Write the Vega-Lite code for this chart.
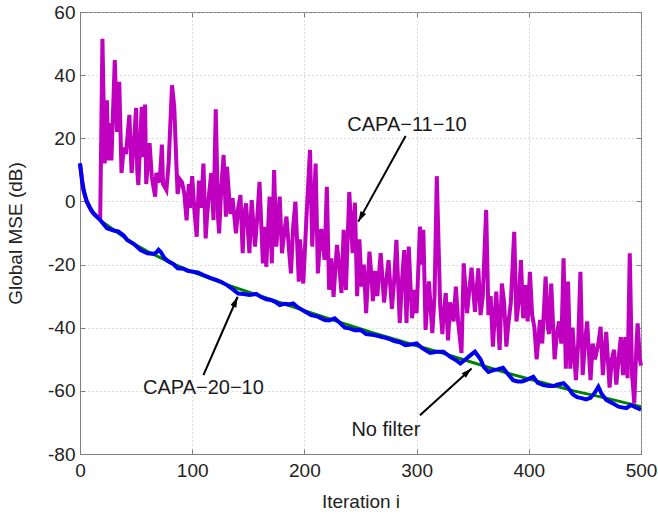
{
"$schema": "https://vega.github.io/schema/vega-lite/v6.json",
"width": 561, "height": 442,
"autosize": "none",
"padding": {"left": 80, "top": 12, "right": 17, "bottom": 60},
"config": {
  "font": "Liberation Sans",
  "view": {"stroke": "#808080", "strokeWidth": 1},
  "axis": {"labelFontSize": 19, "titleFontSize": 19, "labelColor": "#222", "titleColor": "#222", "labelFont": "Liberation Sans", "titleFont": "Liberation Sans", "titleFontWeight": "normal", "domainColor": "#808080", "tickColor": "#808080", "gridColor": "#b8b8b8", "gridDash": [1, 3], "gridWidth": 1, "tickSize": -5, "labelPadding": 10, "labelFlush": false, "labelBound": false, "labelOverlap": false}
},
"datasets": {
  "green": [{"i":0,"v":12},{"i":2,"v":6},{"i":4,"v":2.5},{"i":6,"v":0},{"i":10,"v":-2.8},{"i":15,"v":-4.8},{"i":20,"v":-6.5},{"i":30,"v":-9},{"i":40,"v":-11.5},{"i":50,"v":-13.8},{"i":60,"v":-15.8},{"i":80,"v":-19.3},{"i":100,"v":-22.3},{"i":130,"v":-26.3},{"i":166,"v":-30.6},{"i":200,"v":-34.6},{"i":232,"v":-38.3},{"i":260,"v":-41.5},{"i":300,"v":-45.7},{"i":321,"v":-47.8},{"i":350,"v":-51},{"i":380,"v":-54.3},{"i":410,"v":-57.2},{"i":440,"v":-60},{"i":469,"v":-62.3},{"i":500,"v":-65}],
  "magenta": [{"i":0,"v":12},{"i":3,"v":3.6},{"i":6,"v":0},{"i":10,"v":-3},{"i":14,"v":-4.5},{"i":18,"v":-5.5},{"i":20,"v":51.5},{"i":22,"v":12},{"i":24,"v":32},{"i":25,"v":13},{"i":26,"v":24.8},{"i":28,"v":13},{"i":31,"v":44.8},{"i":33,"v":22},{"i":35,"v":37.9},{"i":37,"v":9},{"i":39,"v":17},{"i":41,"v":15},{"i":44,"v":27.4},{"i":46,"v":9},{"i":48,"v":18},{"i":50,"v":29.6},{"i":51,"v":10},{"i":52,"v":5.2},{"i":55,"v":30},{"i":56,"v":14},{"i":58,"v":30.7},{"i":59,"v":5.5},{"i":62,"v":18.5},{"i":64,"v":8},{"i":65,"v":5.5},{"i":67,"v":1.5},{"i":68,"v":9},{"i":71,"v":6},{"i":73,"v":18},{"i":74,"v":5.5},{"i":77,"v":3.6},{"i":79,"v":12},{"i":82,"v":36.8},{"i":84,"v":30},{"i":86,"v":11},{"i":87,"v":2.4},{"i":89,"v":7},{"i":91,"v":6},{"i":93,"v":2.4},{"i":95,"v":-6},{"i":97,"v":5.5},{"i":98,"v":-2},{"i":100,"v":8},{"i":102,"v":-3},{"i":104,"v":-11.2},{"i":106,"v":6.6},{"i":108,"v":-2},{"i":110,"v":12},{"i":112,"v":-11.7},{"i":113,"v":-6},{"i":115,"v":2.4},{"i":117,"v":9},{"i":119,"v":-5.9},{"i":121,"v":29.2},{"i":123,"v":-4.8},{"i":124,"v":-10.1},{"i":126,"v":5},{"i":128,"v":14.7},{"i":130,"v":-4.8},{"i":131,"v":11},{"i":134,"v":-4},{"i":136,"v":1},{"i":139,"v":-10.1},{"i":141,"v":-2},{"i":143,"v":2},{"i":145,"v":-16.4},{"i":146,"v":-5},{"i":148,"v":-0.6},{"i":151,"v":-16.4},{"i":153,"v":0.4},{"i":156,"v":-14.3},{"i":158,"v":-5},{"i":160,"v":6.2},{"i":163,"v":-19.6},{"i":165,"v":-8},{"i":166,"v":-20.7},{"i":169,"v":1.5},{"i":171,"v":-19.6},{"i":173,"v":9.9},{"i":175,"v":-14.3},{"i":178,"v":1.5},{"i":180,"v":-16.4},{"i":182,"v":-10},{"i":184,"v":-4.8},{"i":186,"v":-14},{"i":188,"v":-22.8},{"i":190,"v":-8},{"i":192,"v":-0.1},{"i":195,"v":-25.4},{"i":196,"v":-12},{"i":199,"v":-26},{"i":202,"v":-3.8},{"i":205,"v":16.3},{"i":207,"v":-14.3},{"i":210,"v":12},{"i":212,"v":-22.8},{"i":214,"v":-12},{"i":215,"v":-8.7},{"i":218,"v":-18.5},{"i":220,"v":4.6},{"i":222,"v":-28},{"i":224,"v":-18},{"i":226,"v":-30.2},{"i":229,"v":-13.8},{"i":231,"v":-20},{"i":233,"v":-29},{"i":235,"v":-9},{"i":237,"v":-28},{"i":240,"v":3},{"i":243,"v":-16.4},{"i":245,"v":-0.4},{"i":247,"v":-30},{"i":249,"v":-12},{"i":251,"v":-27},{"i":253,"v":-20},{"i":255,"v":-35.4},{"i":258,"v":-15.9},{"i":260,"v":-25},{"i":261,"v":-31.6},{"i":263,"v":-22},{"i":265,"v":-30},{"i":268,"v":-16.4},{"i":271,"v":-32},{"i":273,"v":-25},{"i":275,"v":-18.6},{"i":278,"v":-34},{"i":280,"v":-25},{"i":282,"v":-12.2},{"i":285,"v":-38.5},{"i":287,"v":-25},{"i":289,"v":-15.4},{"i":291,"v":-38.5},{"i":293,"v":-14.3},{"i":295,"v":-30},{"i":296,"v":-37},{"i":298,"v":-28},{"i":300,"v":-35.4},{"i":303,"v":-8},{"i":305,"v":-20},{"i":306,"v":-9},{"i":308,"v":-40.7},{"i":310,"v":-30},{"i":311,"v":-25.3},{"i":314,"v":-41.7},{"i":316,"v":-30},{"i":318,"v":8},{"i":321,"v":-33},{"i":323,"v":-42},{"i":324,"v":-36},{"i":326,"v":-29},{"i":328,"v":-44},{"i":330,"v":-32},{"i":333,"v":-38},{"i":335,"v":-27},{"i":337,"v":-38},{"i":340,"v":-48},{"i":342,"v":-19.6},{"i":345,"v":-35.4},{"i":347,"v":-28},{"i":349,"v":-21},{"i":352,"v":-35},{"i":355,"v":-21.2},{"i":357,"v":-36},{"i":359,"v":-30},{"i":362,"v":-2.7},{"i":364,"v":-36},{"i":366,"v":-30},{"i":368,"v":-46},{"i":371,"v":-28.6},{"i":374,"v":-47},{"i":376,"v":-26},{"i":378,"v":-32},{"i":380,"v":-46},{"i":382,"v":-38},{"i":384,"v":-32},{"i":387,"v":-9.6},{"i":389,"v":-38},{"i":391,"v":-32},{"i":393,"v":-18.6},{"i":395,"v":-37},{"i":397,"v":-26.5},{"i":399,"v":-38},{"i":401,"v":-22.3},{"i":403,"v":-36},{"i":405,"v":-40},{"i":407,"v":-50},{"i":410,"v":-37.5},{"i":412,"v":-45},{"i":415,"v":-23.8},{"i":417,"v":-40},{"i":418,"v":-42},{"i":420,"v":-26},{"i":423,"v":-50},{"i":425,"v":-42},{"i":427,"v":-38},{"i":429,"v":-45},{"i":431,"v":-18},{"i":433,"v":-53},{"i":435,"v":-25.4},{"i":437,"v":-53},{"i":439,"v":-40},{"i":442,"v":-56.6},{"i":444,"v":-45},{"i":446,"v":-22.3},{"i":448,"v":-55},{"i":450,"v":-45},{"i":452,"v":-38},{"i":455,"v":-56.6},{"i":457,"v":-45},{"i":459,"v":-50},{"i":462,"v":-45},{"i":464,"v":-39.7},{"i":466,"v":-55},{"i":467,"v":-50},{"i":469,"v":-41.3},{"i":472,"v":-59},{"i":474,"v":-50},{"i":476,"v":-47},{"i":478,"v":-58},{"i":480,"v":-50},{"i":482,"v":-43},{"i":484,"v":-55},{"i":486,"v":-43},{"i":488,"v":-56},{"i":490,"v":-16.4},{"i":492,"v":-55},{"i":493,"v":-59},{"i":494,"v":-64},{"i":496,"v":-45},{"i":497,"v":-38.6},{"i":499,"v":-50},{"i":500,"v":-52}],
  "blue": [{"i":0,"v":12},{"i":2,"v":6},{"i":4,"v":2.5},{"i":6,"v":0},{"i":9,"v":-2},{"i":12,"v":-3.8},{"i":18,"v":-5.9},{"i":24,"v":-8.5},{"i":30,"v":-9.2},{"i":34,"v":-9.5},{"i":39,"v":-10.8},{"i":42,"v":-12.2},{"i":48,"v":-13.5},{"i":54,"v":-15.4},{"i":60,"v":-16.4},{"i":66,"v":-16.6},{"i":68,"v":-16.2},{"i":70,"v":-15.3},{"i":72,"v":-16},{"i":75,"v":-17.8},{"i":78,"v":-18.8},{"i":83,"v":-19.8},{"i":87,"v":-21.2},{"i":92,"v":-21.3},{"i":96,"v":-22},{"i":101,"v":-22.3},{"i":105,"v":-22.5},{"i":110,"v":-23.3},{"i":116,"v":-24.2},{"i":122,"v":-24.9},{"i":126,"v":-25.5},{"i":131,"v":-26.5},{"i":136,"v":-27.8},{"i":141,"v":-29.2},{"i":146,"v":-29.3},{"i":151,"v":-29.6},{"i":154,"v":-29.5},{"i":157,"v":-29.3},{"i":161,"v":-30.2},{"i":166,"v":-31},{"i":170,"v":-31.2},{"i":174,"v":-31.8},{"i":178,"v":-32.8},{"i":182,"v":-32.4},{"i":186,"v":-32.6},{"i":190,"v":-32.3},{"i":194,"v":-33.5},{"i":200,"v":-34.8},{"i":206,"v":-36},{"i":212,"v":-36.5},{"i":218,"v":-37.6},{"i":222,"v":-37.7},{"i":227,"v":-37},{"i":232,"v":-38.6},{"i":236,"v":-40},{"i":240,"v":-40.2},{"i":245,"v":-40.8},{"i":250,"v":-40.7},{"i":255,"v":-42},{"i":260,"v":-42.2},{"i":265,"v":-42.6},{"i":270,"v":-43},{"i":275,"v":-43.5},{"i":280,"v":-44.2},{"i":285,"v":-44.6},{"i":290,"v":-45.5},{"i":295,"v":-45.3},{"i":300,"v":-45},{"i":305,"v":-46.5},{"i":312,"v":-48},{"i":318,"v":-47.6},{"i":324,"v":-47.6},{"i":330,"v":-49.2},{"i":336,"v":-50.5},{"i":339,"v":-51.3},{"i":343,"v":-50.2},{"i":347,"v":-49},{"i":352,"v":-47.6},{"i":357,"v":-50},{"i":360,"v":-52.5},{"i":364,"v":-54},{"i":368,"v":-53.5},{"i":372,"v":-53.2},{"i":377,"v":-52.7},{"i":381,"v":-54.5},{"i":386,"v":-56.6},{"i":390,"v":-57},{"i":394,"v":-57},{"i":398,"v":-56.5},{"i":404,"v":-55.5},{"i":408,"v":-57.5},{"i":413,"v":-58.2},{"i":418,"v":-58.5},{"i":422,"v":-58.5},{"i":426,"v":-58},{"i":431,"v":-57.6},{"i":435,"v":-59},{"i":439,"v":-61},{"i":443,"v":-62},{"i":447,"v":-62.3},{"i":451,"v":-62.7},{"i":455,"v":-62.2},{"i":459,"v":-60.5},{"i":462,"v":-58.7},{"i":465,"v":-61},{"i":469,"v":-62.9},{"i":474,"v":-63.8},{"i":480,"v":-65},{"i":484,"v":-65.3},{"i":487,"v":-65.5},{"i":491,"v":-64.5},{"i":495,"v":-65.2},{"i":500,"v":-66}],
  "notes": [{"name":"capa11","label":"CAPA−11−10","ti":291.4,"tv":24.2,"i":290.2,"v":20.7,"i2":248,"v2":-6.4},{"name":"capa20","label":"CAPA−20−10","ti":110,"tv":-59.2,"i":110,"v":-55,"i2":140.5,"v2":-30.2},{"name":"nofilter","label":"No filter","ti":272.6,"tv":-72.4,"i":303,"v":-67.7,"i2":349,"v2":-52.9}]
},
"resolve": {"axis": {"x": "independent", "y": "independent"}},
"layer": [
  {"data": {"name": "green"}, "mark": {"type": "line", "color": "#008000", "strokeWidth": 3},
   "encoding": {
     "x": {"field": "i", "type": "quantitative", "scale": {"domain": [0, 500], "nice": false}, "axis": {"title": "Iteration i", "values": [0,100,200,300,400,500], "grid": true, "titlePadding": 12, "labelPadding": 12}},
     "y": {"field": "v", "type": "quantitative", "scale": {"domain": [-80, 60], "nice": false}, "axis": {"title": "Global MSE (dB)", "values": [-80,-60,-40,-20,0,20,40,60], "grid": true, "titlePadding": 22, "labelExpr": "replace(datum.label, '−', '-')"}}
   }},
  {"data": {"name": "magenta"}, "mark": {"type": "line", "color": "#bf00bf", "strokeWidth": 4},
   "encoding": {
     "x": {"field": "i", "type": "quantitative", "axis": {"orient": "top", "labels": false, "title": null, "grid": false, "domain": false, "values": [0,100,200,300,400,500]}},
     "y": {"field": "v", "type": "quantitative", "axis": {"orient": "right", "labels": false, "title": null, "grid": false, "domain": false, "values": [-80,-60,-40,-20,0,20,40,60]}}
   }},
  {"data": {"name": "blue"}, "mark": {"type": "line", "color": "#0000f0", "strokeWidth": 4},
   "encoding": {
     "x": {"field": "i", "type": "quantitative", "axis": null},
     "y": {"field": "v", "type": "quantitative", "axis": null}
   }},
  {"data": {"name": "notes"}, "mark": {"type": "rule", "color": "#000", "strokeWidth": 2},
   "encoding": {
     "x": {"field": "i", "type": "quantitative", "axis": null},
     "y": {"field": "v", "type": "quantitative", "axis": null},
     "x2": {"field": "i2"}, "y2": {"field": "v2"}
   }},
  {"data": {"name": "notes"}, "mark": {"type": "text", "fontSize": 20, "color": "#1a1a1a", "align": "center", "baseline": "middle", "font": "Liberation Sans"},
   "encoding": {
     "x": {"field": "ti", "type": "quantitative", "axis": null},
     "y": {"field": "tv", "type": "quantitative", "axis": null},
     "text": {"field": "label"}
   }},
  {"data": {"name": "notes"}, "transform": [{"filter": "datum.name == 'capa11'"}],
   "mark": {"type": "point", "shape": "M-0.45,1.5L0,0L0.45,1.5Z", "filled": true, "color": "#000", "size": 196, "angle": 209, "opacity": 1},
   "encoding": {"x": {"field": "i2", "type": "quantitative", "axis": null}, "y": {"field": "v2", "type": "quantitative", "axis": null}}},
  {"data": {"name": "notes"}, "transform": [{"filter": "datum.name == 'capa20'"}],
   "mark": {"type": "point", "shape": "M-0.45,1.5L0,0L0.45,1.5Z", "filled": true, "color": "#000", "size": 196, "angle": 23.7, "opacity": 1},
   "encoding": {"x": {"field": "i2", "type": "quantitative", "axis": null}, "y": {"field": "v2", "type": "quantitative", "axis": null}}},
  {"data": {"name": "notes"}, "transform": [{"filter": "datum.name == 'nofilter'"}],
   "mark": {"type": "point", "shape": "M-0.45,1.5L0,0L0.45,1.5Z", "filled": true, "color": "#000", "size": 196, "angle": 47.9, "opacity": 1},
   "encoding": {"x": {"field": "i2", "type": "quantitative", "axis": null}, "y": {"field": "v2", "type": "quantitative", "axis": null}}}
]
}
